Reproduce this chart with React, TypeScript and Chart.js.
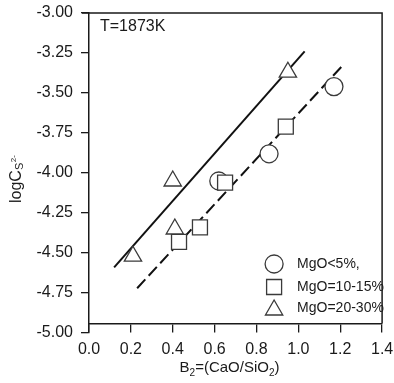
import React, { useEffect, useRef } from 'react';
import { Chart, registerables } from 'chart.js';
import { drawPoint } from 'chart.js/helpers';

Chart.register(...registerables);

// ---- data ----
const circleX = [0.62, 0.86, 1.17];
const circleY = [-4.05, -3.88, -3.46];
const squareX = [0.43, 0.53, 0.65, 0.94];
const squareY = [-4.43, -4.34, -4.06, -3.71];
const triangleX = [0.21, 0.4, 0.41, 0.95];
const triangleY = [-4.52, -4.05, -4.35, -3.37];
const solidLineX = [0.12, 1.03];
const solidLineY = [-4.59, -3.24];
const dashedLineX = [0.23, 1.21];
const dashedLineY = [-4.72, -3.33];
const seriesLabels = ['MgO<5%,', 'MgO=10-15%', 'MgO=20-30%'];
const xTickValues = [0, 0.2, 0.4, 0.6, 0.8, 1.0, 1.2, 1.4];
const yTickValues = [-5, -4.75, -4.5, -4.25, -4, -3.75, -3.5, -3.25, -3];
const xAxisCrossValue = -4.94;
const titleText = 'T=1873K';

const FONT = "'Liberation Sans', Arial, sans-serif";
const INK = '#1a1a1a';
const MARK = '#3a3a3a';

const pts = (xs: number[], ys: number[]) => xs.map((x, i) => ({ x, y: ys[i] }));

const overlayPlugin = {
  id: 'overlay',
  afterDraw(chart: any) {
    const { ctx, chartArea: a, scales } = chart;
    const axisY = scales.y.getPixelForValue(xAxisCrossValue);
    ctx.save();
    // frame (top and right)
    ctx.strokeStyle = INK;
    ctx.lineWidth = 1.5;
    ctx.beginPath();
    ctx.moveTo(a.left - 7, a.top);
    ctx.lineTo(a.right, a.top);
    ctx.lineTo(a.right, axisY);
    ctx.stroke();

    // title
    ctx.fillStyle = INK;
    ctx.font = `16px ${FONT}`;
    ctx.textBaseline = 'middle';
    ctx.textAlign = 'left';
    ctx.fillText(titleText, a.left + 11, a.top + 14);

    // legend
    const ds = chart.data.datasets;
    const rows = [a.bottom - 69, a.bottom - 46, a.bottom - 23];
    [2, 1, 0].forEach((di, r) => {
      const d = ds[di];
      const mx = a.right - 108;
      const my = rows[r];
      ctx.fillStyle = '#ffffff';
      ctx.strokeStyle = MARK;
      ctx.lineWidth = d.borderWidth;
      drawPoint(ctx, { pointStyle: d.pointStyle, radius: d.pointRadius, borderWidth: d.borderWidth, rotation: 0 }, mx, my);
      ctx.fillStyle = INK;
      ctx.font = `14px ${FONT}`;
      ctx.textBaseline = 'middle';
      ctx.fillText(d.label, a.right - 85, d.pointStyle === 'triangle' ? my - 2 : my);
    });

    // x axis title: B2=(CaO/SiO2)
    const parts: [string, number, number][] = [
      ['B', 15, 0], ['2', 10, 3.5], ['=(CaO/SiO', 15, 0], ['2', 10, 3.5], [')', 15, 0],
    ];
    ctx.textBaseline = 'alphabetic';
    let total = 0;
    parts.forEach(([t, s]) => { ctx.font = `${s}px ${FONT}`; total += ctx.measureText(t).width; });
    let x = (a.left + a.right) / 2 - 6 - total / 2;
    const baseY = 372;
    parts.forEach(([t, s, dy]) => {
      ctx.font = `${s}px ${FONT}`;
      ctx.fillText(t, x, baseY + dy);
      x += ctx.measureText(t).width;
    });

    // y axis title: logC_{S^{2-}}
    ctx.translate(20.5, 203);
    ctx.rotate(-Math.PI / 2);
    ctx.font = `16px ${FONT}`;
    ctx.fillText('logC', 0, 0);
    let w = ctx.measureText('logC').width;
    ctx.font = `11px ${FONT}`;
    ctx.fillText('S', w, 2.5);
    w += ctx.measureText('S').width;
    ctx.font = `8px ${FONT}`;
    ctx.fillText('2-', w + 0.5, -4.5);
    ctx.restore();
  },
};

export default function App() {
  const ref = useRef<HTMLCanvasElement | null>(null);
  useEffect(() => {
    if (!ref.current) return;
    const markerBase = { backgroundColor: '#ffffff', borderColor: MARK, borderWidth: 1.3, showLine: false };
    const chart = new Chart(ref.current, {
      type: 'scatter',
      data: {
        datasets: [
          { ...markerBase, label: seriesLabels[2], data: pts(triangleX, triangleY), pointStyle: 'triangle', pointRadius: 10 },
          { ...markerBase, label: seriesLabels[1], data: pts(squareX, squareY), pointStyle: 'rect', pointRadius: 10.6 },
          { ...markerBase, label: seriesLabels[0], data: pts(circleX, circleY), pointStyle: 'circle', pointRadius: 9 },
          { label: 'fit2', data: pts(solidLineX, solidLineY), showLine: true, pointRadius: 0, borderColor: '#111', borderWidth: 2 },
          { label: 'fit1', data: pts(dashedLineX, dashedLineY), showLine: true, pointRadius: 0, borderColor: '#111', borderWidth: 2, borderDash: [12, 5] },
        ] as any,
      },
      options: {
        animation: false,
        responsive: true,
        maintainAspectRatio: false,
        layout: { padding: { left: 0, right: 10, top: 13, bottom: 50 } },
        plugins: { legend: { display: false }, tooltip: { enabled: false } },
        elements: { point: { hoverRadius: 0 } },
        scales: {
          x: {
            axis: 'x',
            type: 'linear',
            min: 0,
            max: 1.4,
            position: { y: xAxisCrossValue } as any,
            afterBuildTicks: (s: any) => { s.ticks = xTickValues.map((v) => ({ value: v })); },
            afterFit: (s: any) => { s.paddingLeft = 0; s.paddingRight = 0; },
            ticks: {
              autoSkip: false,
              maxRotation: 0,
              padding: 9,
              color: INK,
              font: { family: FONT, size: 16 },
              callback: (v: any) => Number(v).toFixed(1),
            },
            grid: { display: true, drawOnChartArea: false, tickLength: 8, color: INK, lineWidth: 1.3 },
            border: { display: true, color: INK, width: 1.5 },
          },
          y: {
            type: 'linear',
            position: 'left',
            min: -5,
            max: -3,
            afterBuildTicks: (s: any) => { s.ticks = yTickValues.map((v) => ({ value: v })); },
            afterFit: (s: any) => { s.width = 89; s.paddingTop = 0; s.paddingBottom = 0; },
            ticks: {
              autoSkip: false,
              padding: 8,
              color: INK,
              font: { family: FONT, size: 16 },
              callback: (v: any) => Number(v).toFixed(2),
            },
            grid: { display: true, drawOnChartArea: false, tickLength: 8, color: INK, lineWidth: 1.3 },
            border: { display: true, color: INK, width: 1.5 },
          },
        },
      },
      plugins: [overlayPlugin],
    });
    return () => chart.destroy();
  }, []);
  return (
    <div style={{ position: 'absolute', left: 0, top: 0, width: 394, height: 383, background: '#fff' }}>
      <canvas ref={ref} />
    </div>
  );
}
